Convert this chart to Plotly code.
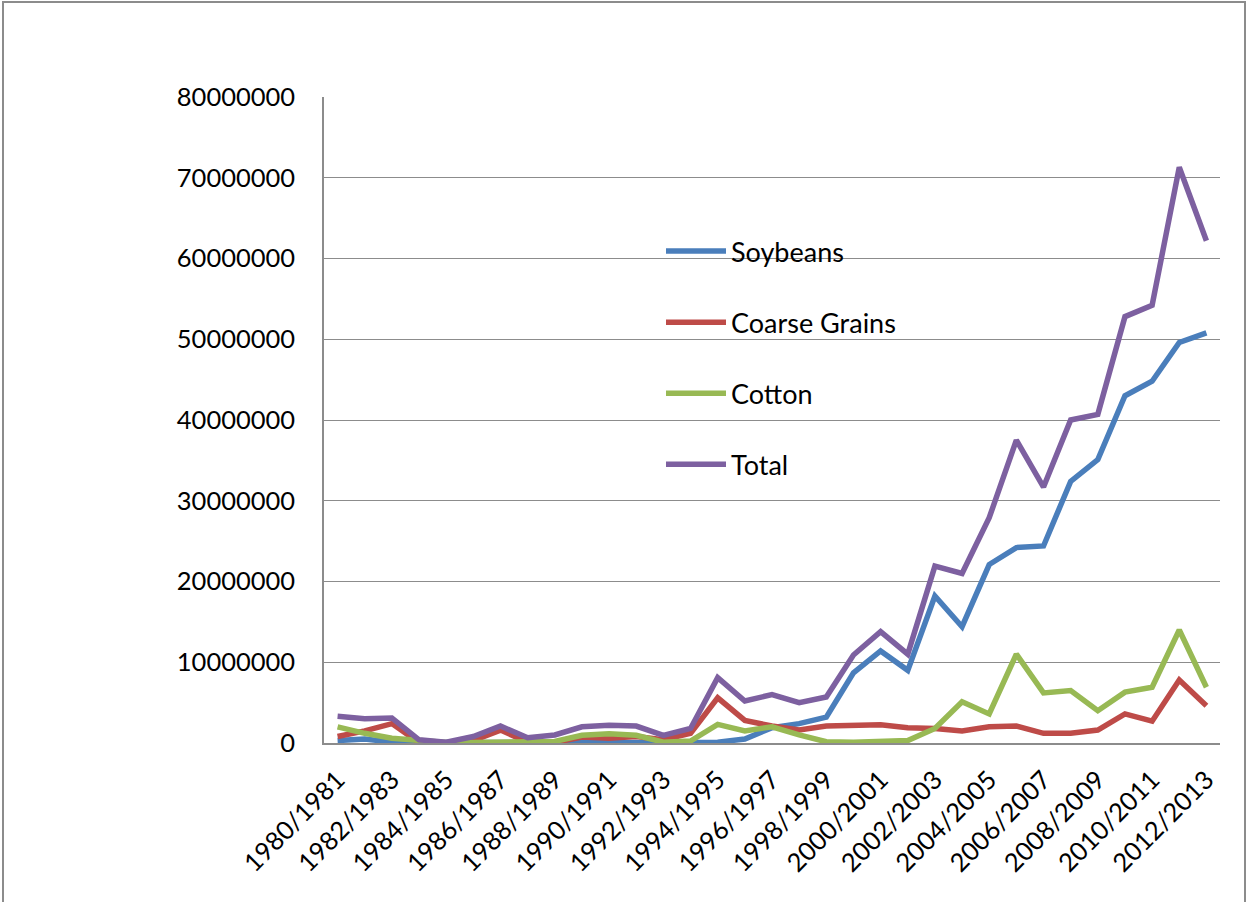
import plotly.graph_objects as go

categories = ["1980/1981", "1981/1982", "1982/1983", "1983/1984", "1984/1985", "1985/1986",
              "1986/1987", "1987/1988", "1988/1989", "1989/1990", "1990/1991", "1991/1992",
              "1992/1993", "1993/1994", "1994/1995", "1995/1996", "1996/1997", "1997/1998",
              "1998/1999", "1999/2000", "2000/2001", "2001/2002", "2002/2003", "2003/2004",
              "2004/2005", "2005/2006", "2006/2007", "2007/2008", "2008/2009", "2009/2010",
              "2010/2011", "2011/2012", "2012/2013"]

# values in millions (scaled to units below)
soybeans_m = [0.3, 0.5, 0.1, 0.05, 0.05, 0.05, 0.05, 0.05, 0.05, 0.05, 0.05, 0.05, 0.05, 0.05,
              0.1, 0.5, 1.9, 2.4, 3.2, 8.7, 11.4, 9.0, 18.2, 14.4, 22.1, 24.2, 24.4, 32.4,
              35.1, 43.0, 44.8, 49.6, 50.8]
coarse_m = [0.8, 1.5, 2.4, 0.05, 0.0, 0.3, 1.6, 0.1, 0.05, 0.75, 0.6, 0.8, 0.4, 1.2,
            5.6, 2.8, 2.1, 1.6, 2.1, 2.25, 2.25, 1.9, 1.8, 1.5, 2.0, 2.1, 1.2, 1.2,
            1.6, 3.6, 2.7, 7.8, 4.6]
cotton_m = [2.0, 1.2, 0.6, 0.25, 0.05, 0.05, 0.05, 0.05, 0.2, 0.95, 1.15, 0.95, 0.1, 0.25,
            2.3, 1.5, 2.0, 1.0, 0.15, 0.1, 0.2, 0.3, 1.8, 5.1, 3.6, 11.0, 6.2, 6.5,
            4.0, 6.3, 6.9, 14.0, 6.9]
total_m = [3.3, 3.0, 3.1, 0.4, 0.1, 0.8, 2.1, 0.65, 1.0, 2.0, 2.2, 2.1, 0.95, 1.8,
           8.1, 5.2, 6.0, 5.0, 5.7, 10.9, 13.8, 11.0, 21.9, 21.0, 27.9, 37.5, 31.7, 40.0,
           40.7, 52.8, 54.2, 71.3, 62.2]

series_names = ["Soybeans", "Coarse Grains", "Cotton", "Total"]
series_values = [soybeans_m, coarse_m, cotton_m, total_m]
series_colors = ["#4A7EBB", "#BE4B48", "#98B954", "#7D60A0"]

tick_labels = categories[::2]
y_ticks = [0, 10000000, 20000000, 30000000, 40000000, 50000000, 60000000, 70000000, 80000000]

FONT = "Lato, 'Open Sans', sans-serif"

fig = go.Figure()
for i, (name, vals, col) in enumerate(zip(series_names, series_values, series_colors)):
    fig.add_trace(go.Scatter(
        x=categories, y=[v * 1e6 for v in vals], mode="lines", name=name,
        line=dict(color=col, width=5.5), legendgroup=name,
    ))

W, H = 1248, 902
ml, mt = 324, 97
mr = W - 1220
mb = H - 743
pw, ph = W - ml - mr, H - mt - mb

def px_x(p):
    return (p - ml) / pw

def px_y(p):
    return (H - mb - p) / ph

fig.update_layout(
    width=W, height=H,
    margin=dict(l=ml, r=mr, t=mt, b=mb, autoexpand=False),
    paper_bgcolor="white", plot_bgcolor="white",
    font=dict(family=FONT, size=25, color="black"),
    showlegend=True,
    legend=dict(
        x=px_x(661), y=px_y(227), xanchor="left", yanchor="top",
        traceorder="grouped", tracegroupgap=33,
        bgcolor="rgba(0,0,0,0)", font=dict(size=27, family=FONT),
        itemwidth=60,
    ),
    xaxis=dict(
        type="category", range=[-0.5, 32.5],
        tickmode="array", tickvals=tick_labels, ticktext=tick_labels,
        tickangle=-45, showgrid=False, showline=True, linecolor="#8C8C8C", linewidth=1.5,
        ticks="", ticklabelstandoff=10, tickfont=dict(size=25.5, family=FONT), zeroline=False,
    ),
    yaxis=dict(
        range=[0, 80000000], tickmode="array", tickvals=y_ticks,
        ticktext=[str(v) for v in y_ticks],
        showgrid=True, gridcolor="#8C8C8C", gridwidth=1,
        showline=True, linecolor="#8C8C8C", linewidth=1.5,
        ticks="", ticklabelstandoff=22, tickfont=dict(size=25.5, family=FONT),
        zeroline=False,
    ),
    shapes=[dict(
        type="rect", xref="paper", yref="paper",
        x0=px_x(3), x1=px_x(1245), y0=px_y(910), y1=px_y(2),
        line=dict(color="#8C8C8C", width=2), fillcolor="rgba(0,0,0,0)", layer="below",
    )],
)

fig.write_html(
    "out.html",
    config={"displayModeBar": False},
    post_script="document.body.style.margin='0';document.body.style.padding='0';",
)
